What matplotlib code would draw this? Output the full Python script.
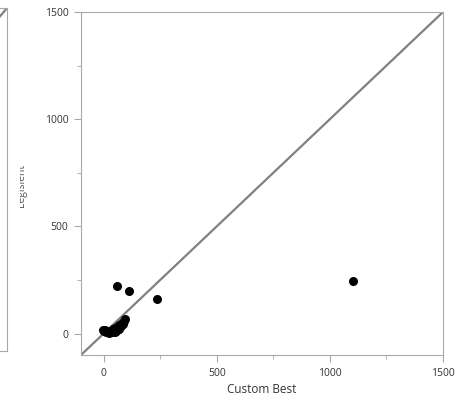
import matplotlib
matplotlib.use("Agg")
import matplotlib.pyplot as plt
from matplotlib.transforms import Bbox

# scatter values
custom_best = [59, 111, 237, 1103, 96, -3, 0, 5, 10, 20, 25, 30, 35, 40, 45, 50,
               55, 60, 65, 70, 75, 80, 85, 90, 60, 50, 70]
legislent = [224, 200, 159, 247, 66, 15, 10, 18, 5, 8, 3, 12, 6, 20, 15, 25,
             10, 30, 22, 40, 35, 50, 45, 60, 15, 5, 20]
ticks = [0, 500, 1000, 1500]
minor = [250, 750, 1250]
lims = [-100, 1500]

plt.rcParams['font.family'] = ['Open Sans', 'DejaVu Sans']
fig = plt.figure(figsize=(4.67, 4.01), dpi=100)

# neighbouring panel, only its right edge is visible
ax0 = fig.add_axes([-0.6, (401 - 351) / 401, 0.6 + 7 / 467, 343 / 401])
ax0.plot(lims, lims, color='#808080', lw=1.6)
ax0.set_xlim(lims)
ax0.set_ylim(lims)
ax0.set_xticks([])
ax0.set_yticks([])
for s in ax0.spines.values():
    s.set_color('#a8a8a8')

ax = fig.add_axes([81 / 467, (401 - 355) / 401, 362 / 467, 343 / 401])
ax.plot(lims, lims, color='#808080', lw=1.6, zorder=1)
ax.scatter(custom_best, legislent, s=30, color='black', zorder=2)
ax.set_xlim(lims)
ax.set_ylim(lims)
ax.set_xticks(ticks)
ax.set_yticks(ticks)
ax.set_xticks(minor, minor=True)
ax.set_yticks(minor, minor=True)
for s in ax.spines.values():
    s.set_color('#a8a8a8')
ax.tick_params(which='major', length=5, color='#a8a8a8', labelsize=7.5,
               labelcolor='#333333', pad=4)
ax.tick_params(which='minor', length=3, color='#a8a8a8')
ax.set_xlabel('Custom Best', fontsize=8.5, color='#333333', labelpad=3)

# y label, half hidden behind the left panel
t = fig.text(22 / 467, 1 - 185 / 401, 'Legislent', rotation=90, fontsize=7.5,
             color='#555555', ha='center', va='center')
t.set_clip_box(Bbox([[20, 0], [467, 401]]))

fig.savefig('out.png', dpi=100)
